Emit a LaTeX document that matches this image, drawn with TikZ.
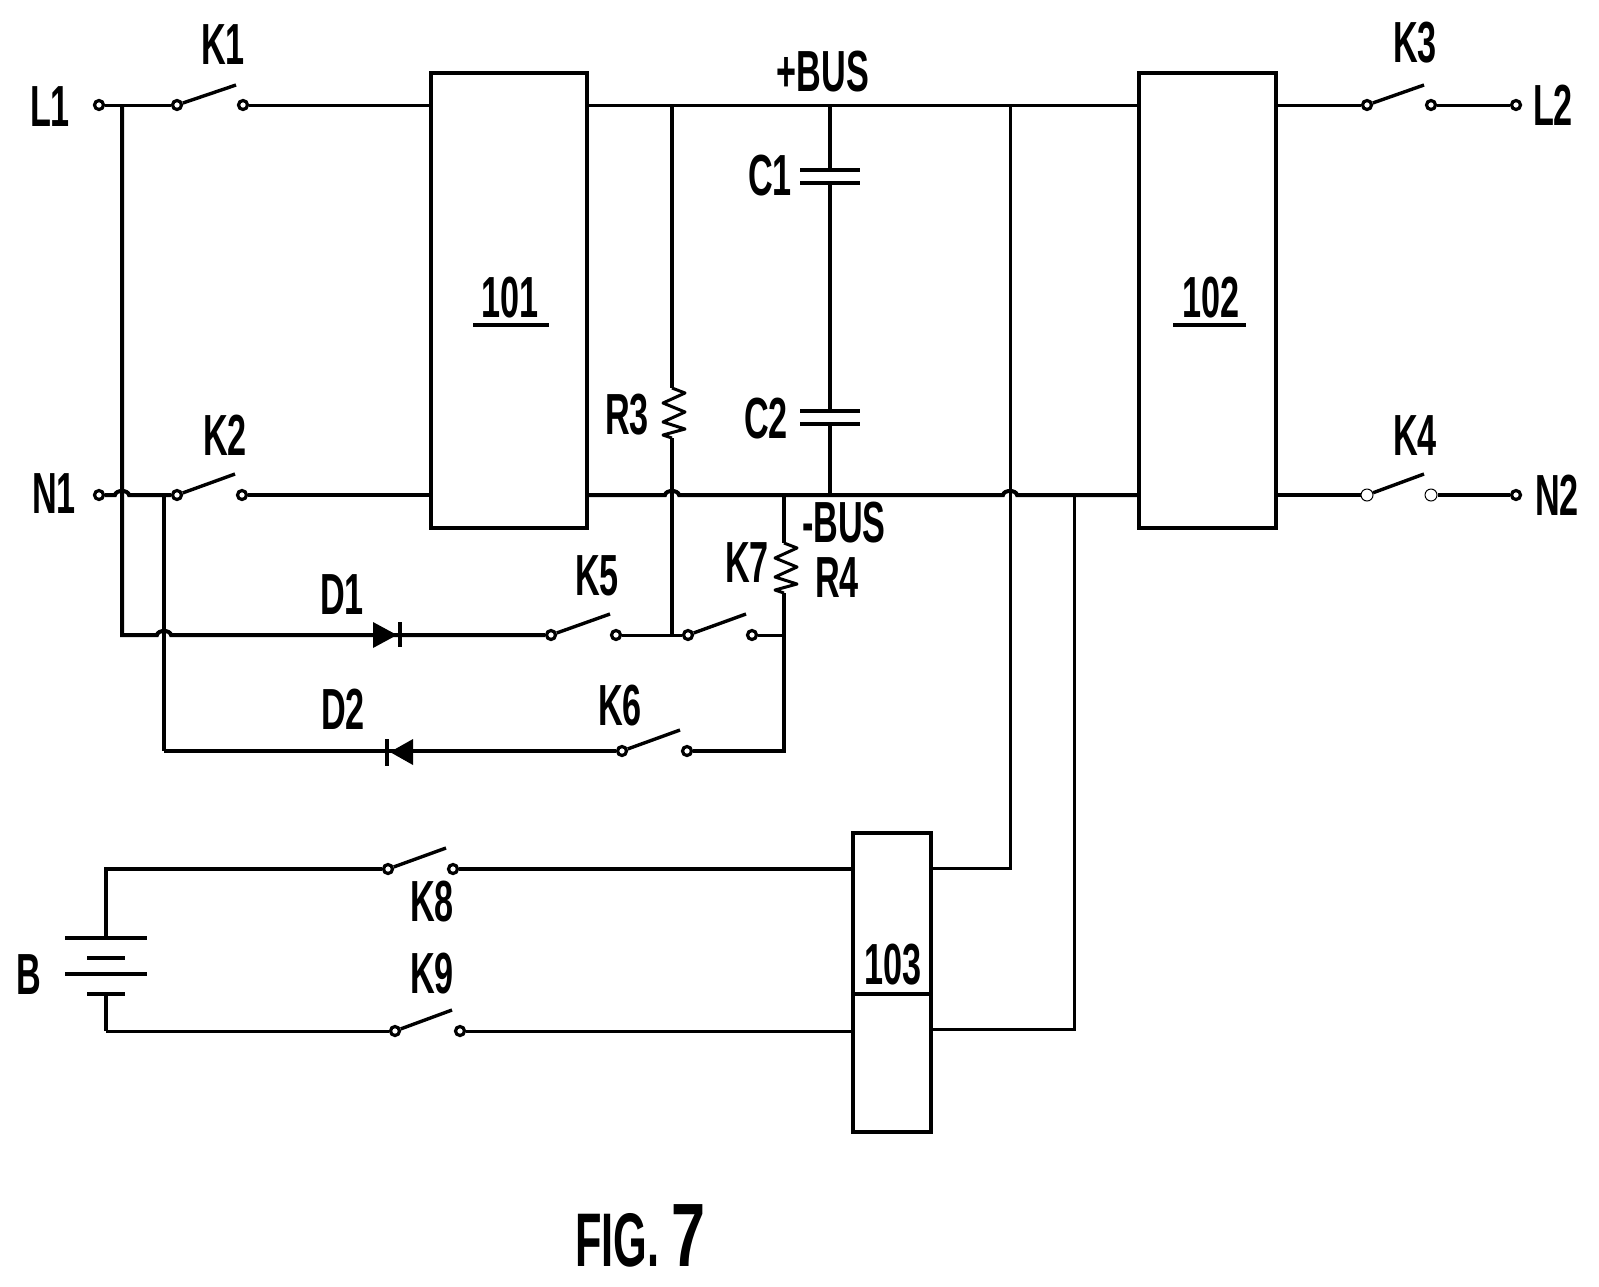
\documentclass[tikz,border=0pt]{standalone}
\usepackage{fontspec}
\setmainfont{Liberation Sans}[FakeStretch=0.59]
\newfontfamily\figfont{Liberation Sans}[FakeStretch=0.57]
\newfontfamily\sevenfont{Liberation Sans}[FakeStretch=0.68]
\usetikzlibrary{positioning}

% one zigzag of a resistor, going down
\newcommand{\zigdown}{-- ++(13,5) -- ++(-22,10) -- ++(22,9) -- ++(-22,10) -- ++(22,7) -- ++(-22,6) -- ++(9,3)}

\begin{document}
\begin{tikzpicture}[
  x=0.5pt, y=-0.5pt,
  wire/.style={line width=2pt, line join=miter},
  thinwire/.style={line width=1.5pt},
  zig/.style={line width=1.5pt, line join=round},
  blade/.style={line width=1.7pt},
  plate/.style={line width=1.8pt},
  pin/.style={draw, circle, fill=white, line width=1.6pt, minimum size=4.5pt, inner sep=0pt},
  palepin/.style={draw, circle, fill=white, line width=0.5pt, minimum size=6pt, inner sep=0pt},
  block/.style={draw, line width=2pt, inner sep=0pt, outer sep=0pt, anchor=north west},
  txt/.style={inner sep=0pt, font=\bfseries\fontsize{29}{29}\selectfont},
  diodefill/.style={fill=black, draw=none}
]
\useasboundingbox (0,0) rectangle (1599,1286);

% blocks
\node[block, minimum width=77.85pt, minimum height=227.6pt] (b101) at (431,73) {};
\node[block, minimum width=68.5pt, minimum height=227.6pt] (b102) at (1139,73) {};
\node[block, minimum width=39pt, minimum height=149.5pt] (b103) at (853,833) {};

% terminals
\node[pin] (l1) at (99,105) {};
\node[pin] (n1) at (99,495) {};
\node[pin] (l2) at (1516,105) {};
\node[pin] (n2) at (1516,495) {};

% switches
\node[pin] (k1a) at (177,105) {};
\node[pin] (k1b) at (243,105) {};
\coordinate (k1t) at (236,85);
\node[pin] (k2a) at (177,495) {};
\node[pin] (k2b) at (242,495) {};
\coordinate (k2t) at (235,474);
\node[pin] (k3a) at (1367,105) {};
\node[pin] (k3b) at (1431,105) {};
\coordinate (k3t) at (1424,85);
\node[palepin] (k4a) at (1367,495) {};
\node[palepin] (k4b) at (1431,495) {};
\coordinate (k4t) at (1424,474);
\node[pin] (k5a) at (551,635) {};
\node[pin] (k5b) at (616,635) {};
\coordinate (k5t) at (610,614);
\node[pin] (k6a) at (622,751) {};
\node[pin] (k6b) at (687,751) {};
\coordinate (k6t) at (680,730);
\node[pin] (k7a) at (688,635) {};
\node[pin] (k7b) at (752,635) {};
\coordinate (k7t) at (746,614);
\node[pin] (k8a) at (388,869) {};
\node[pin] (k8b) at (453,869) {};
\coordinate (k8t) at (446,848);
\node[pin] (k9a) at (395,1031) {};
\node[pin] (k9b) at (460,1031) {};
\coordinate (k9t) at (452,1010);

\draw[blade] (k1a) -- (k1t);
\draw[blade] (k2a) -- (k2t);
\draw[blade] (k3a) -- (k3t);
\draw[blade] (k4a) -- (k4t);
\draw[blade] (k5a) -- (k5t);
\draw[blade] (k6a) -- (k6t);
\draw[blade] (k7a) -- (k7t);
\draw[blade] (k8a) -- (k8t);
\draw[blade] (k9a) -- (k9t);

% junctions on the rails
\coordinate (r3top) at (672,105);
\coordinate (r3up) at (672,388);
\coordinate (r3dn) at (672,438);
\coordinate (r3bot) at (672,635);
\coordinate (captop) at (830,105);
\coordinate (capbot) at (830,495);
\coordinate (r4top) at (784,495);
\coordinate (r4up) at (784,543);
\coordinate (r4dn) at (784,593);
\coordinate (r4mid) at (784,635);
\coordinate (r4bot) at (784,751);
\coordinate (dctop) at (1010,105);
\coordinate (tap) at (1074,495);
\coordinate (c1up) at (830,170);
\coordinate (c1dn) at (830,183);
\coordinate (c2up) at (830,411);
\coordinate (c2dn) at (830,424);

% upper rail and lower rail
\draw[thinwire] (l1) -- (k1a);
\draw[thinwire] (k1b) -- (k1b -| b101.west);
\draw[thinwire] (b101.east |- r3top) -- (b102.west |- r3top);
\draw[thinwire] (b102.east |- l2) -- (k3a);
\draw[thinwire] (k3b) -- (l2);

\coordinate (h1a) at (115,495);
\coordinate (h1b) at (129,495);
\coordinate (h2a) at (665,495);
\coordinate (h2b) at (679,495);
\coordinate (h3a) at (1003,495);
\coordinate (h3b) at (1017,495);
\draw[wire] (n1) -- (h1a) to[bend left=80] (h1b) -- (k2a);
\draw[wire] (k2b) -- (k2b -| b101.west);
\draw[wire] (b101.east |- h2a) -- (h2a) to[bend left=80] (h2b) -- (h3a) to[bend left=80] (h3b) -- (b102.west |- h3b);
\draw[wire] (b102.east |- n2) -- (k4a);
\draw[wire] (k4b) -- (n2);

% left verticals
\coordinate (lv1) at (122,105);
\coordinate (lv2) at (122,635);
\coordinate (lv3) at (164,495);
\coordinate (lv4) at (164,751);
\coordinate (h4a) at (157,635);
\coordinate (h4b) at (171,635);
\draw[wire] (lv1) -- (lv2) -- (h4a) to[bend left=80] (h4b) -- (k5a);
\draw[wire] (lv3) -- (lv4);

% D1 and D2
\draw[diodefill] (373,622) -- (397,635) -- (373,648) -- cycle;
\draw[wire] (400,622) -- (400,647);
\draw[diodefill] (413,739) -- (390,752) -- (413,765) -- cycle;
\draw[wire] (387,739) -- (387,766);
\draw[wire] (lv4) -- (k6a);
\draw[wire] (k6b) -- (r4bot) -- (r4mid);

% K5, K7 and R4
\draw[thinwire] (k5b) -- (k7a);
\draw[thinwire] (k7b) -- (r4mid);
\draw[wire] (r4top) -- (r4up);
\draw[zig] (r4up) \zigdown;
\draw[wire] (r4dn) -- (r4bot);

% R3 and the capacitors
\draw[wire] (r3top) -- (r3up);
\draw[zig] (r3up) \zigdown;
\draw[wire] (r3dn) -- (r3bot);
\draw[wire] (captop) -- (c1up);
\draw[wire] (c1dn) -- (c2up);
\draw[wire] (c2dn) -- (capbot);
\draw[plate] (800,170) -- (860,170);
\draw[plate] (800,183) -- (860,183);
\draw[plate] (800,411) -- (860,411);
\draw[plate] (800,424) -- (860,424);

% battery side
\coordinate (bt1) at (106,869);
\coordinate (bt2) at (106,938);
\coordinate (bt3) at (106,994);
\coordinate (bt4) at (106,1031);
\draw[wire] (b103.west |- k8b) -- (k8b);
\draw[wire] (k8a) -- (bt1) -- (bt2);
\draw[thinwire] (b103.west |- k9b) -- (k9b);
\draw[thinwire] (k9a) -- (bt4);
\draw[wire] (bt4) -- (bt3);
\draw[plate] (65,938) -- (147,938);
\draw[plate] (87,958) -- (125,958);
\draw[plate] (65,974) -- (147,974);
\draw[plate] (87,994) -- (125,994);

% block 103 wires
\coordinate (dv) at (1010,868);
\coordinate (tv) at (1074,1029);
\draw[wire] (b103.west |- 0,994) -- (b103.east |- 0,994);
\draw[thinwire] (b103.east |- dv) -- (dv) -- (dctop);
\draw[thinwire] (b103.east |- tv) -- (tv) -- (tap);

% texts
\node[txt] (lab101) at (510,298) {101};
\node[txt] (lab102) at (1211,298) {102};
\node[txt] (lab103) at (893,965) {103};
\draw[wire] (473,325) -- (549,325);
\draw[wire] (1173,325) -- (1246,325);
\node[txt] (tl1) at (50,107) {L1};
\node[txt] (tn1) at (54,494) {N1};
\node[txt] (tl2) at (1553,105) {L2};
\node[txt] (tn2) at (1557,495) {N2};
\node[txt] (tk1) at (223,45) {K1};
\node[txt] (tk2) at (225,435) {K2};
\node[txt] (tk3) at (1415,43) {K3};
\node[txt] (tk4) at (1415,436) {K4};
\node[txt] (tk5) at (597,576) {K5};
\node[txt] (tk6) at (620,706) {K6};
\node[txt] (tk7) at (747,563) {K7};
\node[txt] (tk8) at (432,902) {K8};
\node[txt] (tk9) at (432,974) {K9};
\node[txt] (tbp) at (823,72) {+BUS};
\node[txt] (tbm) at (844,523) {-BUS};
\node[txt] (tc1) at (770,176) {C1};
\node[txt] (tc2) at (766,419) {C2};
\node[txt] (tr3) at (627,415) {R3};
\node[txt] (tr4) at (837,578) {R4};
\node[txt] (td1) at (342,595) {D1};
\node[txt] (td2) at (343,709) {D2};
\node[txt] (tb) at (29,975) {B};
\node[anchor=base west, inner sep=0pt, font=\bfseries\figfont\fontsize{38}{38}\selectfont] (fig) at (575,1266) {FIG.\hspace{6pt}{\sevenfont\fontsize{45}{45}\selectfont 7}};
\end{tikzpicture}
\end{document}
